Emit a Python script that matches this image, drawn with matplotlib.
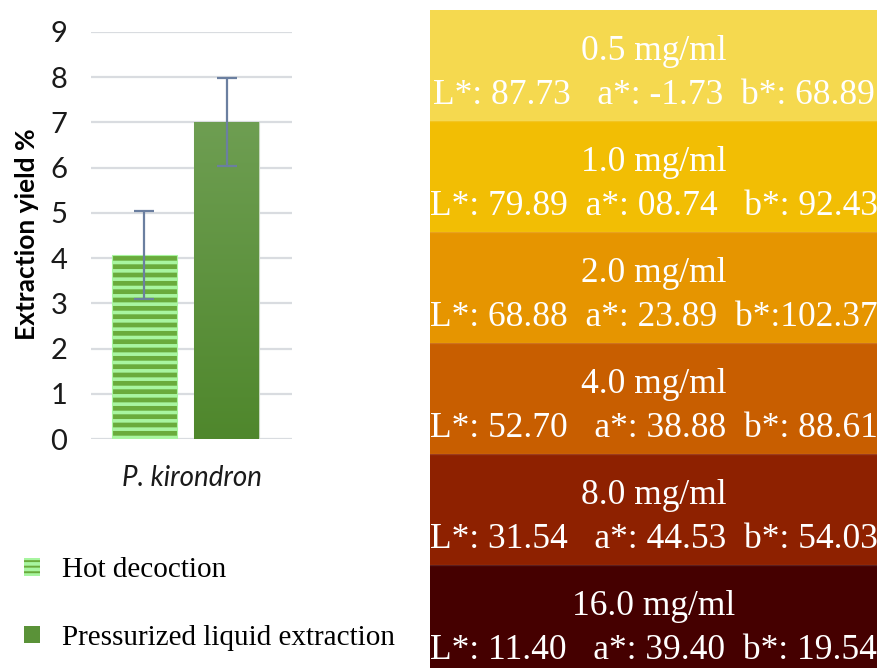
import numpy as np
import matplotlib
matplotlib.use("Agg")
import matplotlib.pyplot as plt
from matplotlib.patches import Patch
from matplotlib.colors import LinearSegmentedColormap

# ---------------- data ----------------
category = ["P. kirondron"]
methods = ["Hot decoction", "Pressurized liquid extraction"]
yield_mean = [4.07, 7.01]
yield_err = [0.98, 0.98]
yticks = [0, 1, 2, 3, 4, 5, 6, 7, 8, 9]

concentrations = ["0.5 mg/ml", "1.0 mg/ml", "2.0 mg/ml", "4.0 mg/ml", "8.0 mg/ml", "16.0 mg/ml"]
L_vals = [87.73, 79.89, 68.88, 52.70, 31.54, 11.40]
a_vals = [-1.73, 8.74, 23.89, 38.88, 44.53, 39.40]
b_vals = [68.89, 92.43, 102.37, 88.61, 54.03, 19.54]
swatch_colors = ["#F5D94F", "#F2BE04", "#E69500", "#C85E00", "#8E2100", "#450000"]

# ---------------- figure ----------------
W, H = 877, 668
fig = plt.figure(figsize=(W / 100, H / 100), dpi=100)
sans = ["Lato", "DejaVu Sans"]
serif = ["Liberation Serif", "DejaVu Serif"]
plt.rcParams["hatch.linewidth"] = 2.6

def px(x0, y0, x1, y1):
    return [x0 / W, 1 - y1 / H, (x1 - x0) / W, (y1 - y0) / H]

# ---- left bar chart ----
ax = fig.add_axes(px(91, 32, 292, 439))
offsets = [-0.205, 0.205]
width = 0.323
b1 = ax.bar(offsets[0], yield_mean[0], width, color="#6AAB3C", edgecolor="#A8F5A0",
            hatch="--", linewidth=0.8, zorder=3, label=methods[0])
b2 = ax.bar(offsets[1], yield_mean[1], width, color="#5A9238", edgecolor="#C8D8C0",
            linewidth=0.8, zorder=3, label=methods[1])
# gradient fill for second bar
p = b2.patches[0]
x0, y0 = p.get_x(), p.get_y()
grad = np.linspace(0, 1, 256).reshape(-1, 1)
cmap = LinearSegmentedColormap.from_list("g", ["#4F872C", "#6E9E52"])
im = ax.imshow(grad, cmap=cmap, origin="lower", aspect="auto",
               extent=[x0, x0 + p.get_width(), y0, y0 + p.get_height()], zorder=3.5)
im.set_clip_path(p)
ax.set_xlim(-0.47, 0.53)
ax.set_ylim(0, 9)

ax.errorbar(offsets, yield_mean, yerr=yield_err, fmt="none", ecolor="#6B7FA0",
            elinewidth=1.6, capsize=7, capthick=1.6, zorder=5)

ax.set_yticks(yticks)
ax.set_yticklabels([str(t) for t in yticks], fontsize=21, family=sans, color="#1a1a1a")
ax.set_xticks([0.03])
ax.set_xticklabels(category, fontsize=20, family=sans, style="italic", color="#1a1a1a")
ax.tick_params(axis="both", length=0)
ax.tick_params(axis="y", pad=17)
ax.tick_params(axis="x", pad=19)
ax.grid(axis="y", color="#D9DCE0", linewidth=1.6, zorder=0)
ax.set_axisbelow(True)
for s in ax.spines.values():
    s.set_visible(False)
fig.text(27 / W, 1 - 234 / H, "Extraction yield %", rotation=90, ha="center", va="center",
         fontsize=19, fontweight="bold", family=sans, color="#000000")

# legend
h1 = Patch(facecolor="#6AAB3C", edgecolor="#A8F5A0", hatch="---", linewidth=0)
h2 = Patch(facecolor="#5A9238", edgecolor="#5A9238", linewidth=0)
leg = fig.legend([h1, h2], methods, loc="upper left", bbox_to_anchor=(-2 / W, 1 - 531 / H),
                 frameon=False, prop={"family": serif, "size": 21},
                 handlelength=0.55, handleheight=0.55, labelspacing=1.42, handletextpad=0.75)

# ---- right colour panel ----
ax2 = fig.add_axes(px(430, 10, 877, 668))
ypos = np.arange(len(concentrations))
ax2.barh(ypos, [1] * len(concentrations), height=1.0, color=swatch_colors, edgecolor="none")
ax2.set_xlim(0, 1)
ax2.set_ylim(-0.5 + 658 / 111, -0.5)
ax2.axis("off")
gaps = [("   ", "  "), ("  ", "   "), ("  ", "  "), ("   ", "  "), ("   ", "  "), ("   ", "  ")]
for i, (c, L, a, b) in enumerate(zip(concentrations, L_vals, a_vals, b_vals)):
    bsep = ":" if b >= 100 else ": "
    g1, g2 = gaps[i]
    line2 = f"L*: {L:.2f}{g1}a*: {a:05.2f}{g2}b*{bsep}{b:.2f}"
    ax2.text(0.5, i - 0.13, c, ha="center", va="center", color="white",
             fontsize=25.5, family=serif)
    ax2.text(0.5, i + 0.27, line2, ha="center", va="center", color="white",
             fontsize=25.5, family=serif)
    if i > 0:
        ax2.axhline(i - 0.5, color="white", alpha=0.12, linewidth=1)

fig.savefig("out.png", dpi=100)
